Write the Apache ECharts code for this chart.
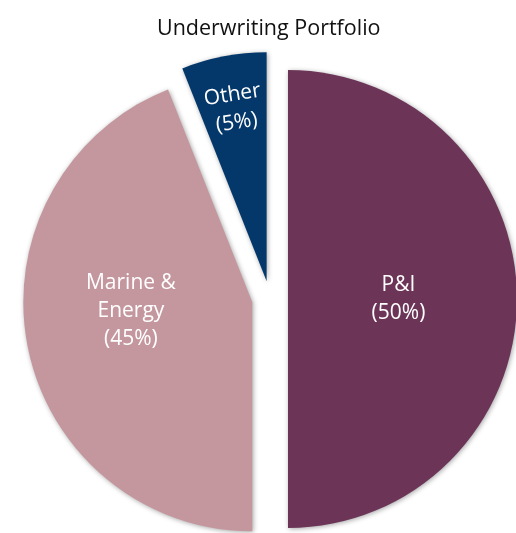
<!DOCTYPE html>
<html>
<head>
<meta charset="utf-8">
<script src="https://cdn.jsdelivr.net/npm/echarts@6/dist/echarts.min.js"></script>
<style>
  html, body { margin: 0; padding: 0; background: #fff; }
  #main { width: 516px; height: 533px; }
</style>
</head>
<body>
<div id="main"></div>
<script>
// slice names, drawn shares (measured from slice angles) and printed labels
var names = ['P&I', 'Marine &\nEnergy', 'Other'];
var shares = [50, 44, 6];
var printed = ['50%', '45%', '5%'];
var colors = ['#6c3558', '#c4979e', '#05386a'];
// nudges for the inside labels
var labelShift = [[-7, 0], [-6, -13], [-1, -58]];
var labelRotate = [0, 0, 9];

var chart = echarts.init(document.getElementById('main'));

var option = {
    backgroundColor: '#fff',
    animation: false,
    title: {
        text: 'Underwriting Portfolio',
        left: 152,
        top: 13,
        textStyle: {
            fontFamily: 'Open Sans',
            fontSize: 21.5,
            fontWeight: 'normal',
            color: '#111'
        }
    },
    series: [{
        type: 'pie',
        center: [270, 299],
        radius: 229,
        startAngle: 90,
        clockwise: true,
        selectedMode: 'multiple',
        selectedOffset: 18,
        silent: true,
        itemStyle: {
            shadowBlur: 5,
            shadowColor: 'rgba(0,0,0,0.35)',
            shadowOffsetX: 1,
            shadowOffsetY: 1
        },
        label: {
            show: true,
            position: 'inside',
            color: '#fff',
            fontFamily: 'Open Sans',
            fontSize: 21,
            lineHeight: 28,
            align: 'center',
            formatter: function (p) {
                return p.name + '\n(' + printed[p.dataIndex] + ')';
            }
        },
        labelLayout: function (p) {
            return { dx: labelShift[p.dataIndex][0], dy: labelShift[p.dataIndex][1] };
        },
        labelLine: { show: false },
        data: names.map(function (n, i) {
            return {
                name: n,
                value: shares[i],
                selected: true,
                itemStyle: { color: colors[i] },
                select: { itemStyle: { color: colors[i] } },
                label: { rotate: labelRotate[i] }
            };
        })
    }]
};

chart.setOption(option);
</script>
</body>
</html>
